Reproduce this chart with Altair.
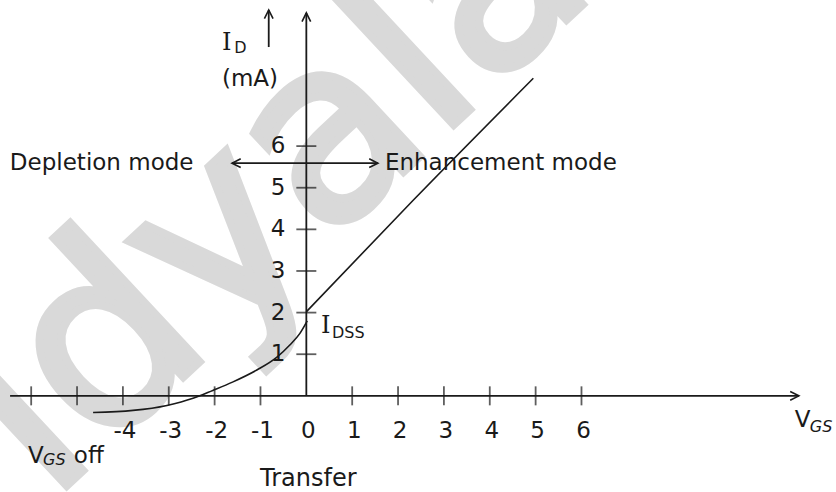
import altair as alt
import pandas as pd

# ---------------- values ----------------
# Transfer characteristic: V_GS (V) against I_D (mA)
curve_vgs = [-4.65, -3.78, -3.04, -2.47, -2.04, -1.61, -1.08, -0.64, -0.36, -0.14, 0.02]
curve_id = [-0.40, -0.35, -0.23, -0.06, 0.13, 0.33, 0.62, 0.93, 1.22, 1.50, 1.80]
# straight enhancement-region branch
line_vgs = [0.0, 2.33, 4.95]
line_id = [2.02, 4.70, 7.63]

x_ticks = [-6, -5, -4, -3, -2, -1, 1, 2, 3, 4, 5, 6]
x_label_vals = [-4, -3, -2, -1, 0, 1, 2, 3, 4, 5, 6]
x_label_text = ["-4", "-3", "-2", "-1", "0", "1", "2", "3", "4", "5", "6"]
y_ticks = [1, 2, 3, 4, 5, 6]
y_label_text = ["1", "2", "3", "4", "5", "6"]

# axis and arrow shafts: (v1, i1, v2, i2)
shafts = [
    (-6.46, 0.0, 10.74, 0.0),   # V_GS axis
    (0.0, 0.0, 0.0, 9.20),      # I_D axis
    (-0.82, 8.38, -0.82, 9.27), # small arrow beside I_D
    (-1.62, 5.59, 1.56, 5.59),  # depletion / enhancement double arrow
]
# arrow heads: (v, i, direction in degrees, 0 = right)
heads = [(10.74, 0.0, 0), (0.0, 9.20, 270), (-0.82, 9.27, 270),
         (-1.62, 5.59, 180), (1.56, 5.59, 0)]

# text annotations: (text, v, i, font size)
sans_texts = [
    ("Depletion mode", -6.465, 5.42, 23),
    ("Enhancement mode", 1.714, 5.42, 23),
    ("(mA)", -1.84, 7.44, 23),
    ("V", -6.07, -1.62, 23),
    ("off", -5.07, -1.62, 23),
    ("V", 10.65, -0.755, 23),
    ("Transfer", -1.01, -2.17, 24),
]
serif_texts = [("I", -1.84, 8.31, 24), ("I", 0.318, 1.505, 24)]
sub_texts = [("D", -1.57, 8.24, 16), ("DSS", 0.56, 1.385, 16)]
sub_italic_texts = [("GS", -5.74, -1.67, 16), ("GS", 10.98, -0.875, 16)]

watermark = [("Vidyalankar", 3.5, 6.8)]

# ---------------- scales ----------------
X_DOM = [-6.68, 11.55]
Y_DOM = [-2.31, 9.51]
xs = alt.Scale(domain=X_DOM, nice=False, zero=False)
ys = alt.Scale(domain=Y_DOM, nice=False, zero=False)
INK = "#1a1a1a"
FONT = "DejaVu Sans"


def X(f="v"):
    return alt.X(f"{f}:Q", scale=xs, axis=None)


def Y(f="i"):
    return alt.Y(f"{f}:Q", scale=ys, axis=None)


def text_df(rows):
    return pd.DataFrame(rows, columns=["t", "v", "i", "fs"])


wm = alt.Chart(pd.DataFrame(watermark, columns=["t", "v", "i"])).mark_text(
    font=FONT, fontSize=250, angle=317, align="center", baseline="alphabetic",
    color="#d9d9d9", stroke="#d9d9d9", strokeWidth=8
).encode(x=X(), y=Y(), text="t:N")

shaft_df = pd.DataFrame(shafts, columns=["v", "i", "v2", "i2"])
shaft_layer = alt.Chart(shaft_df).mark_rule(color=INK, strokeWidth=1.8).encode(
    x=X(), y=Y(), x2="v2:Q", y2="i2:Q"
)

head_df = pd.DataFrame(heads, columns=["v", "i", "ang"])
head_layer = alt.Chart(head_df).mark_point(
    shape="M-1,-0.5L0,0L-1,0.5", filled=False, size=300, color=INK,
    strokeWidth=1.6, opacity=1
).encode(x=X(), y=Y(), angle=alt.Angle("ang:Q", scale=None))

xt_df = pd.DataFrame({"v": x_ticks, "i": [0.0] * len(x_ticks)})
xt_layer = alt.Chart(xt_df).mark_tick(
    orient="vertical", size=19, thickness=1.8, color=INK
).encode(x=X(), y=Y())

yt_df = pd.DataFrame({"v": [0.0] * len(y_ticks), "i": y_ticks})
yt_layer = alt.Chart(yt_df).mark_tick(
    orient="horizontal", size=20, thickness=1.8, color=INK
).encode(x=X(), y=Y())

curve_df = pd.concat([
    pd.DataFrame({"v": curve_vgs, "i": curve_id, "seg": "curve"}),
    pd.DataFrame({"v": line_vgs, "i": line_id, "seg": "line"}),
])
curve_layer = alt.Chart(curve_df).mark_line(
    color=INK, strokeWidth=1.6, interpolate="monotone"
).encode(x=X(), y=Y(), detail="seg:N")

xl_df = pd.DataFrame({"t": x_label_text, "v": x_label_vals, "i": [-0.85] * len(x_label_vals)})
xl_layer = alt.Chart(xl_df).mark_text(
    font=FONT, fontSize=23, align="center", baseline="middle", dx=2, color=INK
).encode(x=X(), y=Y(), text="t:N")

yl_df = pd.DataFrame({"t": y_label_text, "v": [0.0] * len(y_ticks), "i": y_ticks})
yl_layer = alt.Chart(yl_df).mark_text(
    font=FONT, fontSize=23, align="right", baseline="middle", dx=-21, color=INK
).encode(x=X(), y=Y(), text="t:N")


def txt(rows, **kw):
    return alt.Chart(text_df(rows)).mark_text(
        align="left", baseline="alphabetic", color=INK, **kw
    ).encode(x=X(), y=Y(), text="t:N", size=alt.Size("fs:Q", scale=None))


chart = alt.layer(
    wm,
    shaft_layer,
    xt_layer,
    yt_layer,
    curve_layer,
    head_layer,
    xl_layer,
    yl_layer,
    txt(sans_texts, font=FONT),
    txt(serif_texts, font="DejaVu Serif"),
    txt(sub_texts, font=FONT),
    txt(sub_italic_texts, font=FONT, fontStyle="italic"),
).properties(
    width=836, height=492, padding=0, autosize=alt.AutoSizeParams(type="none"),
    background="white"
).configure_view(stroke=None)

chart.save("out.html", embed_options={"renderer": "svg", "actions": False})
